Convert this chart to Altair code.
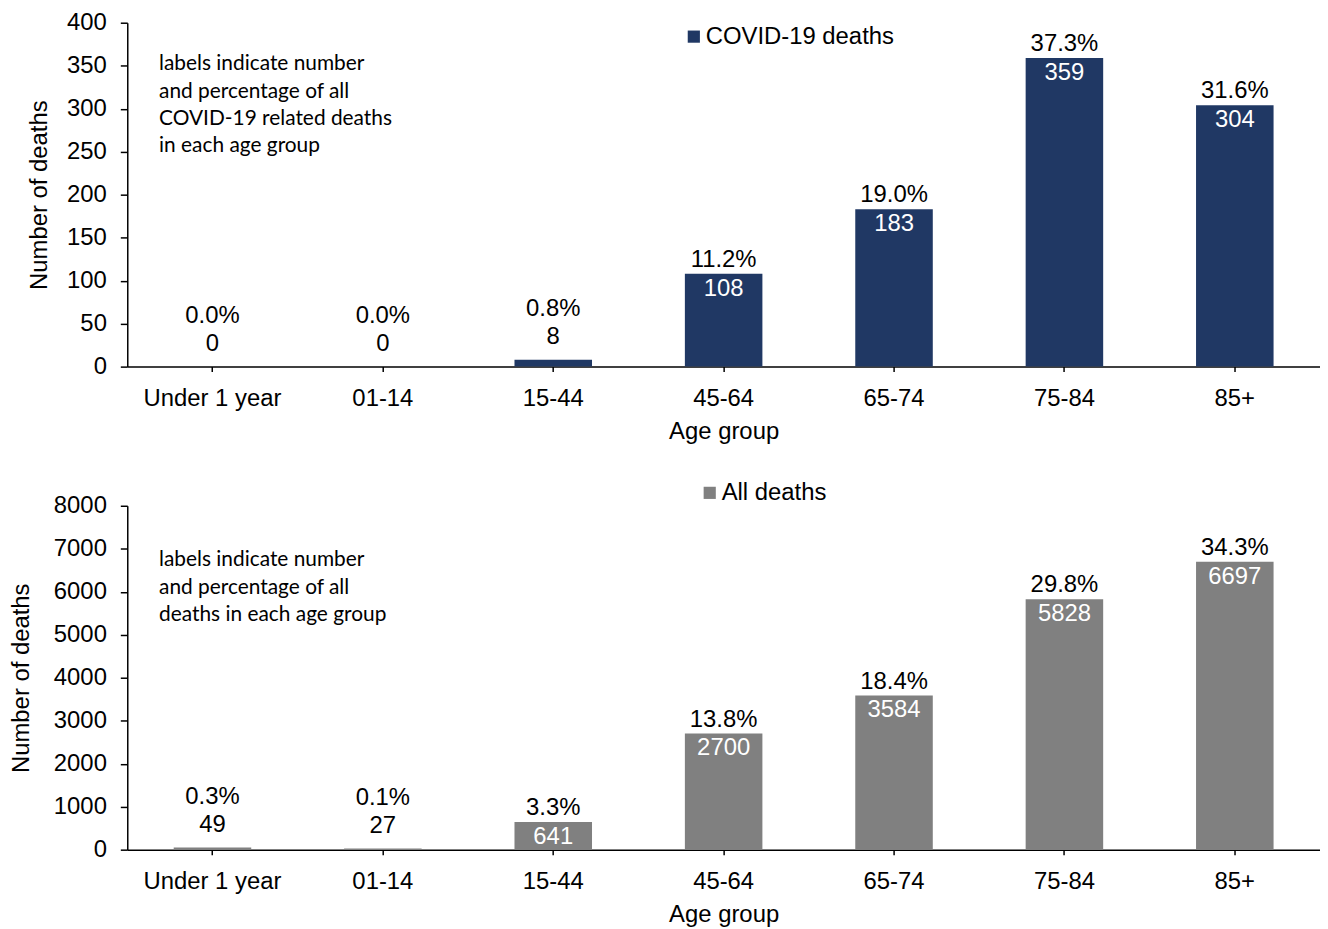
import altair as alt
import pandas as pd

age_groups = ["Under 1 year", "01-14", "15-44", "45-64", "65-74", "75-84", "85+"]
covid_deaths = [0, 0, 8, 108, 183, 359, 304]
covid_pct = ["0.0%", "0.0%", "0.8%", "11.2%", "19.0%", "37.3%", "31.6%"]
all_deaths = [49, 27, 641, 2700, 3584, 5828, 6697]
all_pct = ["0.3%", "0.1%", "3.3%", "13.8%", "18.4%", "29.8%", "34.3%"]

FONT = "Liberation Sans"
NOTE_FONT = "Lato"
FS = 24
NAVY = "#203864"
GRAY = "#808080"


def panel(values, pcts, series, color, ymax, ystep, note, note_xy, title_x, legend_xy, ylabpad):
    df = pd.DataFrame({
        "age": age_groups,
        "value": values,
        "pct": pcts,
        "series": series,
    })
    df["inside"] = df["value"] / ymax > 0.05
    x = alt.X(
        "age:N", sort=age_groups, title="Age group",
        scale=alt.Scale(paddingInner=0.545, paddingOuter=0.2725),
        axis=alt.Axis(labelAngle=0, domainColor="black", domainWidth=1.5,
                      tickColor="black", tickWidth=1.5, tickSize=5,
                      labelPadding=15, titlePadding=9, labelColor="black",
                      titleColor="black"),
    )
    y = alt.Y(
        "value:Q", title="Number of deaths",
        scale=alt.Scale(domain=[0, ymax], nice=False),
        axis=alt.Axis(values=list(range(0, ymax + 1, ystep)), grid=False, format="d",
                      domainColor="black", domainWidth=1.5, tickColor="black",
                      tickWidth=1.5, tickSize=7, labelPadding=ylabpad,
                      labelColor="black", titleColor="black",
                      titleX=title_x, titleY=173, titleAngle=270,
                      titleAlign="center", titleBaseline="middle"),
    )
    base = alt.Chart(df)
    bars = base.mark_bar().encode(
        x=x, y=y,
        color=alt.Color("series:N", scale=alt.Scale(range=[color]),
                        legend=alt.Legend(title=None, orient="none",
                                          legendX=legend_xy[0], legendY=legend_xy[1],
                                          symbolType="square", symbolSize=150,
                                          symbolStrokeWidth=0, labelFontSize=FS,
                                          labelFont=FONT, labelColor="black",
                                          labelLimit=0, labelOffset=0,
                                          symbolOpacity=1)),
    )
    inside = base.transform_filter("datum.inside")
    outside = base.transform_filter("!datum.inside")
    xt = alt.X("age:N", sort=age_groups)
    yt = alt.Y("value:Q")
    pct_in = inside.mark_text(fontSize=FS, font=FONT, color="black", baseline="middle", dy=-14).encode(
        x=xt, y=yt, text="pct:N")
    num_in = inside.mark_text(fontSize=FS, font=FONT, color="white", baseline="middle", dy=15).encode(
        x=xt, y=yt, text="value:Q")
    pct_out = outside.mark_text(fontSize=FS, font=FONT, color="black", baseline="middle", dy=-51).encode(
        x=xt, y=yt, text="pct:N")
    num_out = outside.mark_text(fontSize=FS, font=FONT, color="black", baseline="middle", dy=-23).encode(
        x=xt, y=yt, text="value:Q")
    note_df = pd.DataFrame({"note": [note]})
    note_mark = alt.Chart(note_df).mark_text(
        font=NOTE_FONT, fontSize=21, align="left", baseline="top",
        lineBreak="\n", lineHeight=27.5, color="black",
    ).encode(x=alt.value(note_xy[0]), y=alt.value(note_xy[1]), text="note:N")
    return alt.layer(bars, pct_in, num_in, pct_out, num_out, note_mark).properties(
        width=1200, height=346)


top = panel(covid_deaths, covid_pct, "COVID-19 deaths", NAVY, 400, 50,
            "labels indicate number\nand percentage of all\nCOVID-19 related deaths\nin each age group",
            (32, 31), -88, (558, 2), 14)
bottom = panel(all_deaths, all_pct, "All deaths", GRAY, 8000, 1000,
               "labels indicate number\nand percentage of all\ndeaths in each age group",
               (32, 44), -106, (574, -25), 14)

chart = alt.vconcat(top, bottom, spacing=38).resolve_scale(color="independent").properties(
    padding={"left": 2, "top": 0, "right": 0, "bottom": 0}
).configure_view(stroke=None).configure_axis(
    labelFont=FONT, titleFont=FONT, labelFontSize=FS, titleFontSize=FS,
    titleFontWeight="normal",
)

chart.save("out.html", embed_options={"renderer": "svg", "actions": False})
